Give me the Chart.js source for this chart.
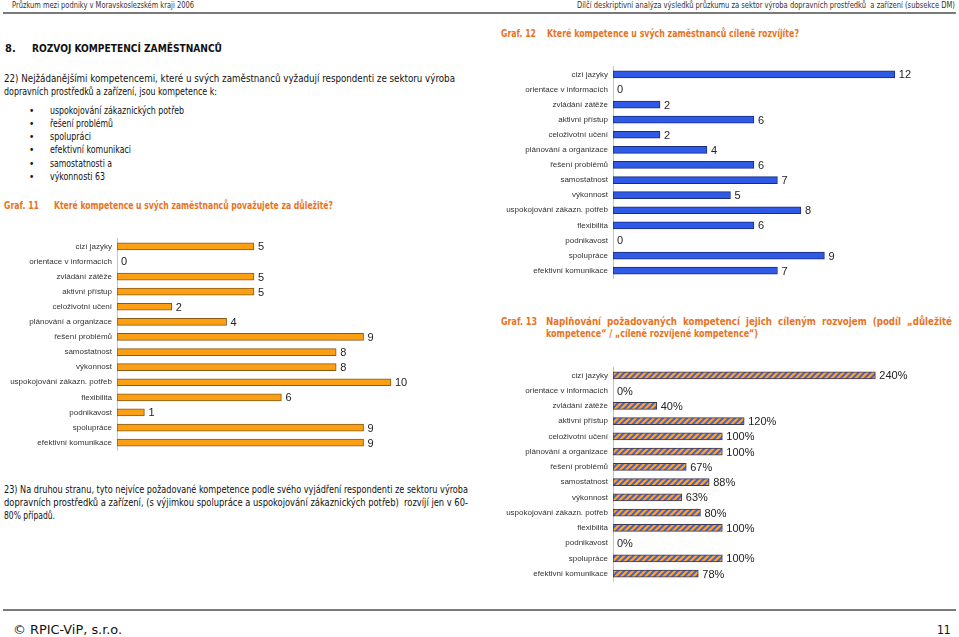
<!DOCTYPE html>
<html lang="cs">
<head>
<meta charset="utf-8">
<script src="https://cdn.jsdelivr.net/npm/chart.js@4.4.1/dist/chart.umd.min.js"></script>
<style>
  body { margin:0; width:959px; height:637px; background:#fff; position:relative; overflow:hidden;
         font-family: Tahoma, "DejaVu Sans Condensed", "DejaVu Sans", sans-serif; color:#111; }
  .t { position:absolute; white-space:pre; line-height:14px; font-size:10px; transform-origin:0 50%; }
  .h { font-size:8.5px; color:#333; }
  .b { font-weight:bold; font-size:11px; }
  .o { font-weight:bold; color:#E8731E; }
  .f { font-size:12px; }
  .rule { position:absolute; left:3px; width:953px; height:2px; background:#7a7a7a; }
  .box { position:absolute; }
</style>
</head>
<body>

<div class="t h" style="left:12px;top:-2px" data-w="182">Průzkum mezi podniky v Moravskoslezském kraji 2006</div>
<div class="t h" style="left:577px;top:-2px" data-w="378">Dílčí deskriptivní analýza výsledků průzkumu za sektor výroba dopravních prostředků  a zařízení (subsekce DM)</div>
<div class="rule" style="top:12px"></div>

<div class="t b" style="left:5px;top:42px">8.</div>
<div class="t b" style="left:32px;top:42px" data-w="190">ROZVOJ KOMPETENCÍ ZAMĚSTNANCŮ</div>

<div class="t" style="left:4px;top:72px" data-w="451">22) Nejžádanějšími kompetencemi, které u svých zaměstnanců vyžadují respondenti ze sektoru výroba</div>
<div class="t" style="left:4px;top:85px" data-w="213">dopravních prostředků a zařízení, jsou kompetence k:</div>

<div class="t" style="left:29px;top:104px">•</div>
<div class="t" style="left:50px;top:104px" data-w="134">uspokojování zákaznických potřeb</div>
<div class="t" style="left:29px;top:117px">•</div>
<div class="t" style="left:50px;top:117px" data-w="63">řešení problémů</div>
<div class="t" style="left:29px;top:130px">•</div>
<div class="t" style="left:50px;top:130px" data-w="41">spolupráci</div>
<div class="t" style="left:29px;top:143px">•</div>
<div class="t" style="left:50px;top:143px" data-w="81">efektivní komunikaci</div>
<div class="t" style="left:29px;top:157px">•</div>
<div class="t" style="left:50px;top:157px" data-w="62">samostatnosti a</div>
<div class="t" style="left:29px;top:170px">•</div>
<div class="t" style="left:50px;top:170px" data-w="55">výkonnosti 63</div>

<div class="t o" style="left:4px;top:199px" data-w="35">Graf. 11</div>
<div class="t o" style="left:54px;top:199px" data-w="279">Které kompetence u svých zaměstnanců považujete za důležité?</div>

<div class="t o" style="left:501px;top:27px" data-w="35">Graf. 12</div>
<div class="t o" style="left:547px;top:27px" data-w="252">Které kompetence u svých zaměstnanců cíleně rozvíjíte?</div>

<div class="t o" style="left:501px;top:315px" data-w="36">Graf. 13</div>
<div class="t o" style="left:546px;top:315px" data-w="406">Naplňování  požadovaných  kompetencí  jejich  cíleným  rozvojem  (podíl  „důležité</div>
<div class="t o" style="left:546px;top:327px" data-w="212">kompetence“ / „cíleně rozvíjené kompetence“)</div>

<div class="t" style="left:4px;top:483px" data-w="464">23) Na druhou stranu, tyto nejvíce požadované kompetence podle svého vyjádření respondenti ze sektoru výroba</div>
<div class="t" style="left:4px;top:496px" data-w="464">dopravních prostředků a zařízení, (s výjimkou spolupráce a uspokojování zákaznických potřeb)  rozvíjí jen v 60-</div>
<div class="t" style="left:4px;top:509px" data-w="51">80% případů.</div>

<div class="rule" style="top:609px"></div>
<div class="t f" style="left:13px;top:623px" data-w="109">© RPIC-ViP, s.r.o.</div>
<div class="t f" style="left:937px;top:623px">11</div>

<div class="box" style="left:0;top:229px;width:480px;height:231px"><canvas id="graf11"></canvas></div>
<div class="box" style="left:480px;top:57px;width:479px;height:231px"><canvas id="graf12"></canvas></div>
<div class="box" style="left:480px;top:358px;width:479px;height:233px"><canvas id="graf13"></canvas></div>

<script>
const kategorie = ['cizí jazyky', 'orientace v informacích', 'zvládání zátěže', 'aktivní přístup',
    'celoživotní učení', 'plánování a organizace', 'řešení problémů', 'samostatnost', 'výkonnost',
    'uspokojování zákazn. potřeb', 'flexibilita', 'podnikavost', 'spolupráce', 'efektivní komunikace'];
const dulezite = [5, 0, 5, 5, 2, 4, 9, 8, 8, 10, 6, 1, 9, 9];
const rozvijene = [12, 0, 2, 6, 2, 4, 6, 7, 5, 8, 6, 0, 9, 7];
const naplneni = [240, 0, 40, 120, 100, 100, 67, 88, 63, 80, 100, 0, 100, 78];

// texty na presnou sirku jako v predloze
document.querySelectorAll('[data-w]').forEach(el => {
    const w = el.getBoundingClientRect().width;
    el.style.transform = 'scaleX(' + (el.dataset.w / w) + ')';
});

const popisky = {
    id: 'popisky',
    afterDatasetsDraw(chart, args, opts) {
        const ctx = chart.ctx;
        const meta = chart.getDatasetMeta(0);
        ctx.save();
        ctx.font = '11px "Liberation Sans", Arial, sans-serif';
        ctx.fillStyle = '#222';
        ctx.textBaseline = 'middle';
        meta.data.forEach((bar, i) => {
            ctx.fillText(chart.data.datasets[0].data[i] + opts.pripona, bar.x + 4, bar.y + 1);
        });
        ctx.restore();
    }
};

function pruhy() {
    const c = document.createElement('canvas');
    c.width = 6;
    c.height = 6;
    const p = c.getContext('2d');
    p.fillStyle = '#3e5cde';
    p.fillRect(0, 0, 6, 6);
    p.strokeStyle = '#f2a43c';
    p.lineWidth = 2.4;
    p.beginPath();
    p.moveTo(-1, 7); p.lineTo(7, -1);
    p.moveTo(-4, 4); p.lineTo(4, -4);
    p.moveTo(2, 10); p.lineTo(10, 2);
    p.stroke();
    return p.createPattern(c, 'repeat');
}

function vytvorGraf(id, hodnoty, barva, okraj, max, sirkaOsy, pripona) {
    return new Chart(document.getElementById(id), {
        type: 'bar',
        data: {
            labels: kategorie,
            datasets: [{
                data: hodnoty,
                backgroundColor: barva,
                borderColor: okraj,
                borderWidth: 1,
                borderSkipped: false,
                barThickness: 7
            }]
        },
        options: {
            indexAxis: 'y',
            responsive: true,
            maintainAspectRatio: false,
            animation: false,
            layout: { padding: 0, autoPadding: false },
            plugins: {
                legend: { display: false },
                tooltip: { enabled: false },
                popisky: { pripona: pripona }
            },
            scales: {
                x: { display: false, min: 0, max: max },
                y: {
                    grid: { drawOnChartArea: false, drawTicks: false },
                    border: { color: '#c4c4c4' },
                    ticks: {
                        autoSkip: false,
                        padding: 5,
                        color: '#333',
                        font: { family: '"Liberation Sans", Arial, sans-serif', size: 8 }
                    },
                    afterFit(scale) { scale.width = sirkaOsy; }
                }
            }
        },
        plugins: [popisky]
    });
}

vytvorGraf('graf11', dulezite, '#fb9f14', '#8a5a16', 13.25, 117, '');
vytvorGraf('graf12', rozvijene, '#2f5ae6', '#1b2d80', 14.73, 133, '');
vytvorGraf('graf13', naplneni, pruhy(), '#3a3a5a', 316.5, 133, '%');
</script>
</body>
</html>
